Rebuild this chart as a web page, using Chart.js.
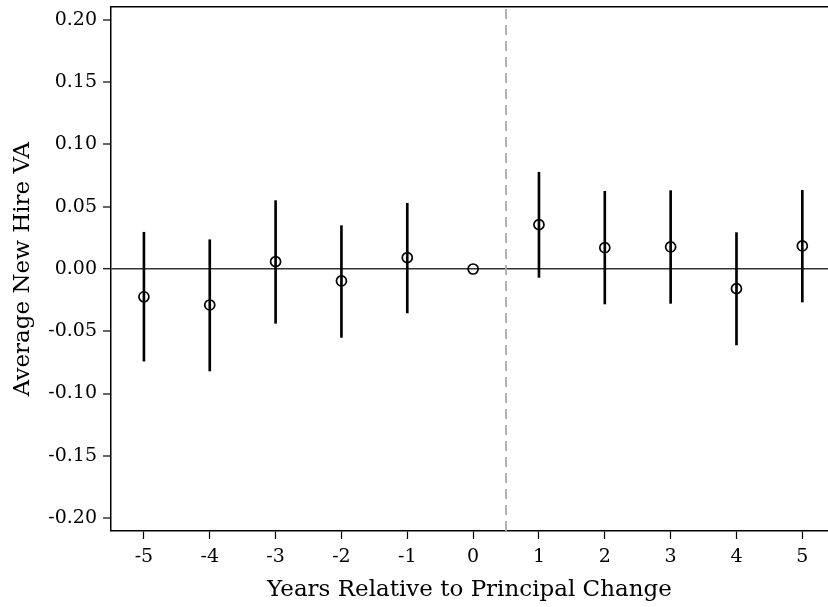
<!DOCTYPE html>
<html>
<head>
<meta charset="utf-8">
<script src="https://cdn.jsdelivr.net/npm/chart.js@4/dist/chart.umd.min.js"></script>
<style>
   html, body { margin: 0; padding: 0; background: #fff; overflow: hidden; }
   #wrap { width: 828px; height: 607px; }
</style>
</head>
<body>
<div id="wrap"><canvas id="eventChart" width="828" height="607"></canvas></div>
<script>
// event-study estimates
const years = [-5, -4, -3, -2, -1, 0, 1, 2, 3, 4, 5];
const estimates = [-0.0223, -0.0289, 0.0059, -0.0096, 0.0091, 0.0, 0.0356, 0.0171, 0.0177, -0.0158, 0.0185];
const ciLow = [-0.0740, -0.0819, -0.0436, -0.0549, -0.0353, null, -0.0067, -0.0281, -0.0276, -0.0610, -0.0265];
const ciHigh = [0.0295, 0.0235, 0.0549, 0.0348, 0.0528, null, 0.0777, 0.0624, 0.0629, 0.0292, 0.0632];
const yTicks = [-0.20, -0.15, -0.10, -0.05, 0.00, 0.05, 0.10, 0.15, 0.20];
const xTicks = [-5, -4, -3, -2, -1, 0, 1, 2, 3, 4, 5];
const cutoff = 0.5;
const yRange = [-0.2104, 0.2104];
const xRange = [-5.5, 5.39]; // right edge of the plot is cropped in the original

const FONT = "'DejaVu Serif', serif";

const ciData = years
   .map((yr, i) => ({ x: yr, y: [ciLow[i], ciHigh[i]] }))
   .filter(d => d.y[0] !== null);
const pointData = years.map((yr, i) => ({ x: yr, y: estimates[i] }));

// keep the plot box where it is, no extra room for overhanging labels
function noPad(s) {
   s.paddingTop = 0;
   s.paddingBottom = 0;
   s.paddingLeft = 0;
   s.paddingRight = 0;
}

const ctx = document.getElementById('eventChart').getContext('2d');
new Chart(ctx, {
   type: 'bar',
   data: {
      datasets: [
         {
            type: 'line',
            data: [{ x: cutoff, y: yRange[0] }, { x: cutoff, y: yRange[1] }],
            borderColor: '#ababab',
            borderWidth: 1.8,
            borderDash: [10, 6],
            pointRadius: 0,
            order: 3
         },
         {
            type: 'bar',
            data: ciData,
            backgroundColor: '#000',
            borderWidth: 0,
            barThickness: 2,
            grouped: false,
            order: 2
         },
         {
            type: 'scatter',
            data: pointData,
            pointStyle: 'circle',
            pointRadius: 5,
            pointBorderWidth: 1.7,
            pointBorderColor: '#000',
            pointBackgroundColor: 'rgba(255,255,255,0)',
            order: 1
         }
      ]
   },
   options: {
      responsive: false,
      animation: false,
      layout: { autoPadding: false, padding: 0 },
      plugins: { legend: { display: false }, tooltip: { enabled: false } },
      scales: {
         x: {
            type: 'linear',
            position: 'bottom',
            offset: false,
            min: xRange[0],
            max: xRange[1],
            afterBuildTicks: s => { s.ticks = xTicks.map(v => ({ value: v })); },
            afterFit: s => { s.height = 76; noPad(s); },
            grid: { display: true, offset: false, drawOnChartArea: false, tickLength: 8, tickColor: '#000', tickWidth: 1.2 },
            border: { display: true, color: '#000', width: 1.5 },
            ticks: { color: '#000', font: { family: FONT, size: 19 }, padding: 7, maxRotation: 0, autoSkip: false },
            title: {
               display: true,
               text: 'Years Relative to Principal Change',
               color: '#000',
               font: { family: FONT, size: 23 },
               padding: { top: 0, bottom: 3 }
            }
         },
         xTop: {
            type: 'linear',
            position: 'top',
            offset: false,
            min: xRange[0],
            max: xRange[1],
            afterFit: s => { s.height = 7; noPad(s); },
            grid: { display: false },
            border: { display: true, color: '#000', width: 1.5 },
            ticks: { display: false }
         },
         y: {
            type: 'linear',
            min: yRange[0],
            max: yRange[1],
            afterBuildTicks: s => { s.ticks = yTicks.map(v => ({ value: v })); },
            afterFit: s => { s.width = 111; noPad(s); },
            grid: {
               display: true,
               drawOnChartArea: true,
               tickLength: 8,
               tickColor: '#000',
               tickWidth: 1.2,
               lineWidth: c => (c.tick && Math.abs(c.tick.value) < 1e-9 ? 1.5 : 0),
               color: c => (c.tick && Math.abs(c.tick.value) < 1e-9 ? '#333' : 'rgba(0,0,0,0)')
            },
            border: { display: true, color: '#000', width: 1.5 },
            ticks: {
               color: '#000',
               font: { family: FONT, size: 19 },
               padding: 6,
               callback: v => v.toFixed(2)
            },
            title: {
               display: true,
               text: 'Average New Hire VA',
               color: '#000',
               font: { family: FONT, size: 23 },
               padding: { top: 9, bottom: 0 }
            }
         }
      }
   }
});
</script>
</body>
</html>
